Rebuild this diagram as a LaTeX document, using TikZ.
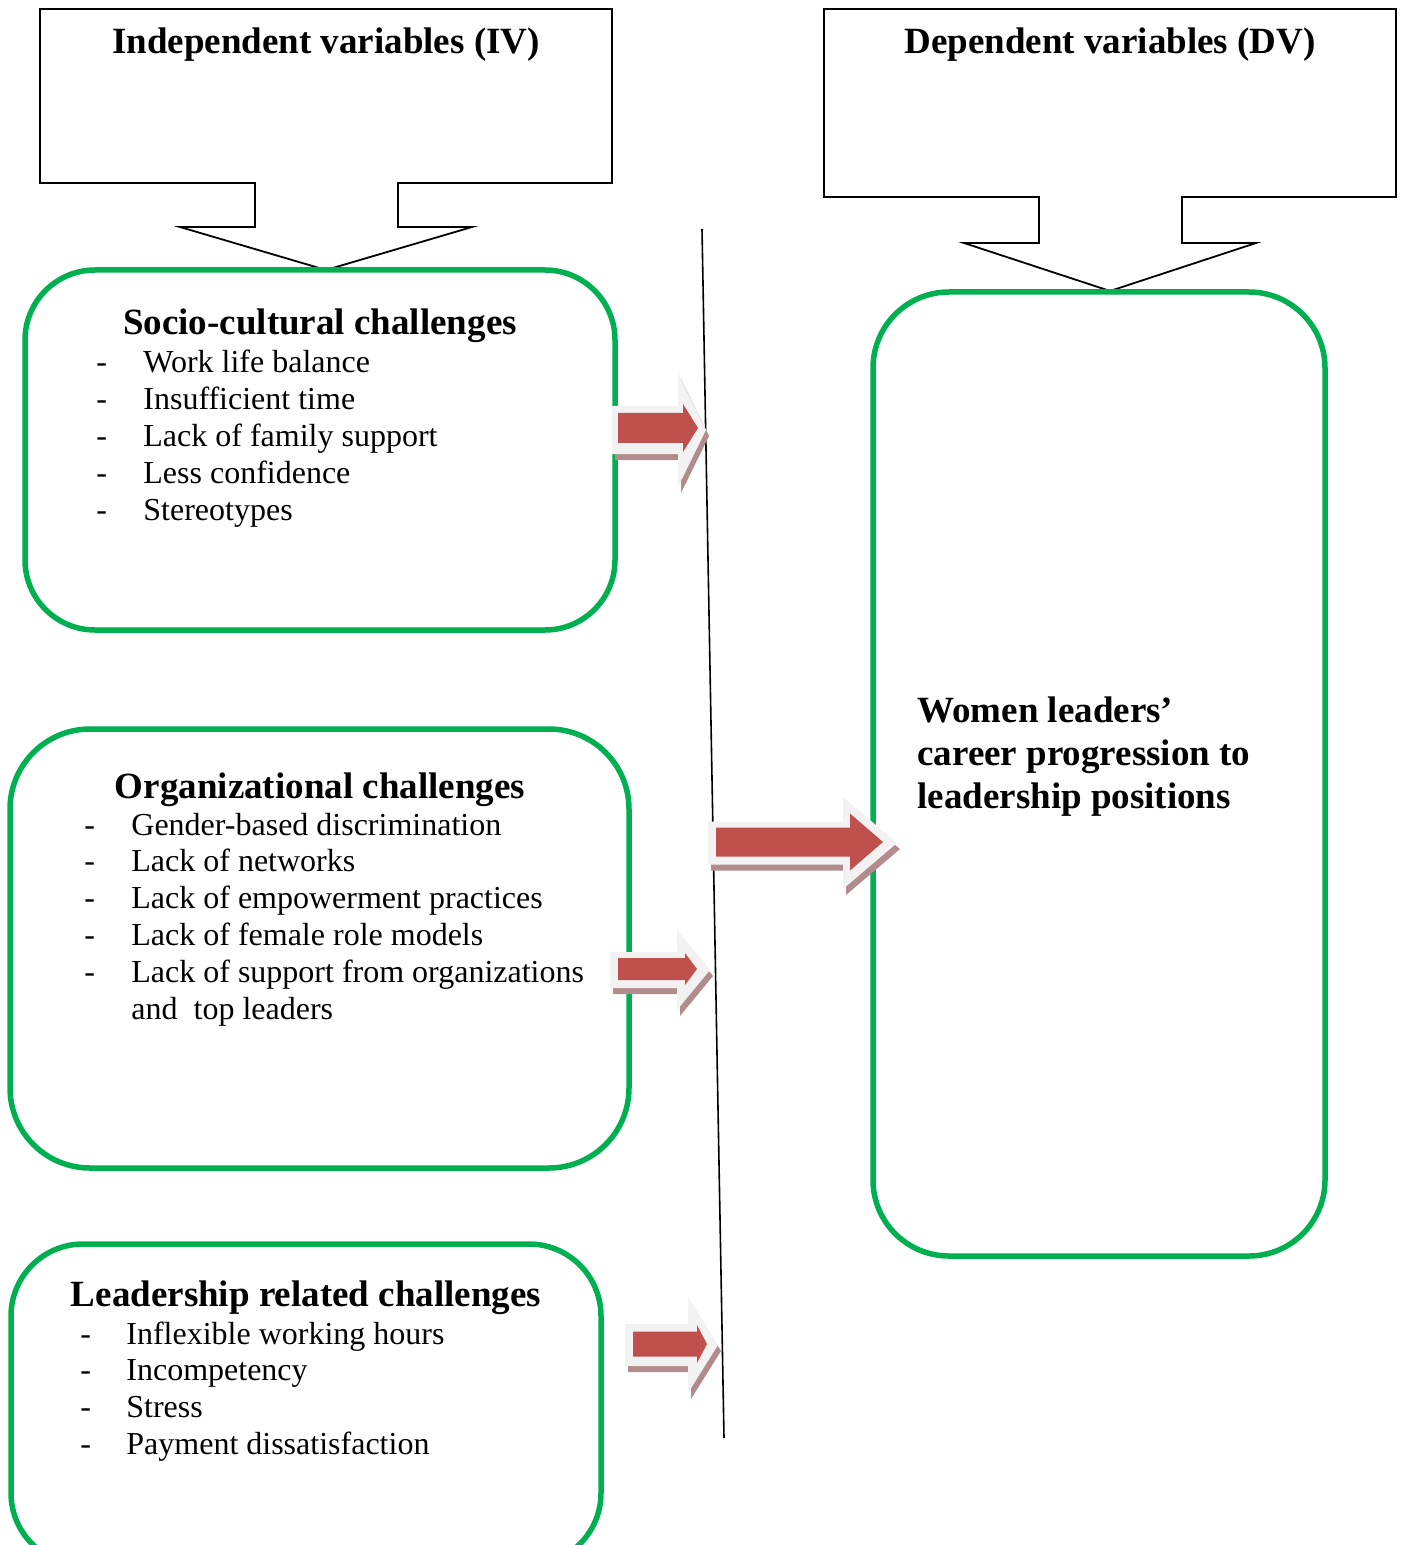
\documentclass[tikz,border=0pt]{standalone}
\usepackage{fontspec}
\setmainfont{Liberation Serif}
\definecolor{grn}{RGB}{0,176,80}
\definecolor{arrred}{RGB}{192,80,77}
\definecolor{arrgray}{RGB}{242,242,242}
\definecolor{arrshadow}{RGB}{178,140,140}
\tikzset{
  greenbox/.style={draw=grn, line width=2.75pt},
  callout/.style={draw=black, line width=0.9pt, fill=white},
  headtxt/.style={font=\fontsize{18.5}{21}\selectfont\bfseries, inner sep=0pt, anchor=base},
  itemtxt/.style={font=\fontsize{16}{18.5}\selectfont, inner sep=0pt, anchor=base west},
  dvtxt/.style={font=\fontsize{18.5}{21.5}\selectfont\bfseries, inner sep=0pt, anchor=base west},
}
\newcommand\blkarrow[7]{%
  \fill[#1] (#2,#5-#6) -- (#3,#5-#6) -- (#3,#5-#7) -- (#4,#5) -- (#3,#5+#7) -- (#3,#5+#6) -- (#2,#5+#6) -- cycle;}
\newcommand\fullarrow[9]{% x0 xb xt cy h H | inner: x0 xb xt  (inner cy, h, H via \innerspec)
  \blkarrow{arrshadow,shift={(3,6)}}{#1}{#2}{#3}{#4}{#5}{#6}%
  \blkarrow{arrgray}{#1}{#2}{#3}{#4}{#5}{#6}%
  \blkarrow{arrred}{#7}{#8}{#9}}
\begin{document}
\begin{tikzpicture}[x=0.5pt,y=-0.5pt]
\clip (0,0) rectangle (1405,1545);
\fill[white] (0,0) rectangle (1405,1545);

% callout boxes
\draw[callout] (40,9) -- (612,9) -- (612,183) -- (398,183) -- (398,227) -- (472,227)
  -- (326,270) -- (180,227) -- (255,227) -- (255,183) -- (40,183) -- cycle;
\node[headtxt] (iv) at (326,54) {Independent variables (IV)};

\draw[callout] (824,9) -- (1396,9) -- (1396,197) -- (1182,197) -- (1182,243) -- (1256,243)
  -- (1110,291) -- (964,243) -- (1039,243) -- (1039,197) -- (824,197) -- cycle;
\node[headtxt] (dv) at (1110,54) {Dependent variables (DV)};

% green boxes
\draw[greenbox, rounded corners=35pt] (25,270) rectangle (615,630);
\draw[greenbox, rounded corners=40pt] (10,729) rectangle (629,1168);
\draw[greenbox, rounded corners=36pt] (11,1244) rectangle (601,1565);
\draw[greenbox, rounded corners=38pt] (873,292) rectangle (1325,1256);

% divider line
\draw[line width=0.8pt] (702,229) -- (724,1438);

% socio-cultural
\node[headtxt] (sch) at (320,335) {Socio-cultural challenges};
\foreach \t [count=\i, evaluate=\i as \yy using 373+(\i-1)*36.75] in
  {Work life balance, Insufficient time, Lack of family support, Less confidence, Stereotypes}{
  \node[itemtxt] (scd\i) at (96,\yy) {-};
  \node[itemtxt] (sc\i) at (143,\yy) {\t};
}

% organizational
\node[headtxt] (orh) at (320,798) {Organizational challenges};
\foreach \t [count=\i, evaluate=\i as \yy using 835+(\i-1)*36.9] in
  {Gender-based discrimination, Lack of networks, Lack of empowerment practices, Lack of female role models, Lack of support from organizations}{
  \node[itemtxt] (ord\i) at (84,\yy) {-};
  \node[itemtxt] (or\i) at (131,\yy) {\t};
}
\node[itemtxt] (or6) at (131,1019) {and\ \ top leaders};

% leadership
\node[headtxt] (ldh) at (306,1306) {Leadership related challenges};
\foreach \t [count=\i, evaluate=\i as \yy using 1344+(\i-1)*36.8] in
  {Inflexible working hours, Incompetency, Stress, Payment dissatisfaction}{
  \node[itemtxt] (ldd\i) at (80,\yy) {-};
  \node[itemtxt] (ld\i) at (126,\yy) {\t};
}

% DV text
\node[dvtxt] (w1) at (917,722) {Women leaders’};
\node[dvtxt] (w2) at (917,765) {career progression to};
\node[dvtxt] (w3) at (917,808) {leadership positions};

% block arrows
\fullarrow{612}{678}{706}{430}{24}{57}{618}{683}{698}{428}{15}{24}
\fullarrow{708}{843}{897}{843}{21.5}{46}{716}{850}{883}{842}{14.5}{28.5}
\fullarrow{610}{677}{710}{970}{18}{40}{618}{685}{697}{969}{11}{16}
\fullarrow{625}{688}{718}{1345}{21}{48}{633}{697}{707}{1344}{12.5}{19}
\end{tikzpicture}
\end{document}
